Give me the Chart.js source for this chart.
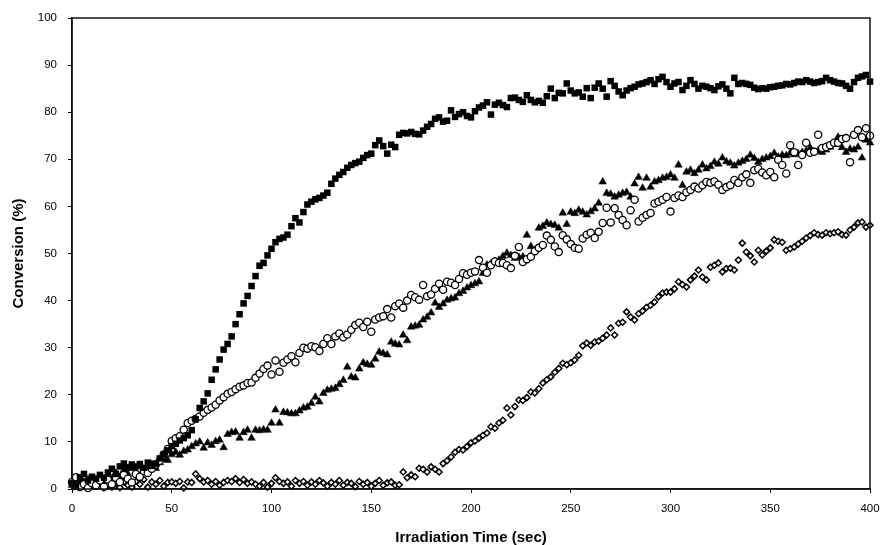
<!DOCTYPE html>
<html>
<head>
<meta charset="utf-8">
<script src="https://cdn.jsdelivr.net/npm/chart.js@4/dist/chart.umd.min.js"></script>
<style>
  html, body { margin: 0; padding: 0; background: #fff; }
  #wrap { width: 883px; height: 545px; }
</style>
</head>
<body>
<div id="wrap"><canvas id="c" width="883" height="545"></canvas></div>
<script>
// ---- data ----
const times = [0,2,4,6,8,10,12,14,16,18,20,22,24,26,28,30,32,34,36,38,40,42,44,46,48,50,52,54,56,58,60,62,64,66,68,70,72,74,76,78,80,82,84,86,88,90,92,94,96,98,100,102,104,106,108,110,112,114,116,118,120,122,124,126,128,130,132,134,136,138,140,142,144,146,148,150,152,154,156,158,160,162,164,166,168,170,172,174,176,178,180,182,184,186,188,190,192,194,196,198,200,202,204,206,208,210,212,214,216,218,220,222,224,226,228,230,232,234,236,238,240,242,244,246,248,250,252,254,256,258,260,262,264,266,268,270,272,274,276,278,280,282,284,286,288,290,292,294,296,298,300,302,304,306,308,310,312,314,316,318,320,322,324,326,328,330,332,334,336,338,340,342,344,346,348,350,352,354,356,358,360,362,364,366,368,370,372,374,376,378,380,382,384,386,388,390,392,394,396,398,400];

const filledSquares = [1.2,0.5,2.5,3.2,1.8,2.6,2.2,3.0,2.4,3.5,4.3,3.2,4.8,5.4,4.6,5.2,4.8,5.3,4.5,5.6,4.9,5.4,6.5,7.4,8.2,9.1,9.6,10.3,10.8,11.4,12.5,14.8,17.2,18.6,20.3,23.2,25.4,27.5,29.6,30.8,32.4,35.0,37.1,39.4,41.0,43.1,45.2,47.4,48.0,49.6,51.0,52.4,53.1,53.4,54.0,55.8,57.5,56.6,58.8,60.4,61.0,61.5,61.8,62.3,62.9,64.8,65.9,66.7,67.3,68.2,68.8,69.2,69.5,70.3,70.9,71.2,73.0,74.0,72.8,71.2,73.1,72.6,75.2,75.6,75.5,75.8,75.4,75.3,76.1,76.9,77.5,78.6,78.9,78.0,78.2,80.4,79.0,79.6,80.0,79.2,78.9,80.2,81.0,81.4,82.1,79.5,81.6,82.0,81.5,81.1,83.0,83.1,82.6,82.2,83.6,82.6,82.1,82.4,82.0,83.4,85.0,83.0,84.1,84.0,86.1,84.6,84.0,84.2,83.3,85.1,83.0,85.2,86.1,85.0,83.3,86.6,85.6,84.4,83.6,84.6,85.1,85.4,85.9,86.1,86.4,86.8,86.0,87.0,87.5,86.4,85.4,86.1,86.4,84.7,85.6,86.8,86.0,85.0,85.6,85.4,85.1,84.7,85.5,85.9,85.0,84.0,87.3,86.0,86.2,86.0,85.8,85.2,84.9,85.1,85.0,85.3,85.4,85.6,85.7,86.0,85.9,86.2,86.5,86.4,86.8,86.5,86.2,86.4,86.6,87.3,86.8,86.5,86.2,86.1,85.6,85.0,86.4,87.3,87.6,87.9,86.5];

const openCircles = [1.5,2.5,0.4,1.0,0.2,1.2,0.8,1.8,0.5,2.0,1.0,2.4,1.5,3.0,2.2,1.4,3.2,2.6,3.8,3.4,4.3,5.2,6.0,7.3,8.5,10.2,10.8,11.2,12.6,14.0,14.5,14.9,15.4,16.2,16.8,17.3,17.9,18.8,19.5,20.2,20.6,21.2,21.7,22.0,22.5,22.6,23.6,24.5,25.5,26.2,24.3,27.3,24.9,26.8,27.5,28.2,26.9,28.9,30.0,29.8,30.3,30.1,29.3,30.8,32.0,30.8,32.4,33.0,32.2,32.8,33.8,34.8,35.3,34.4,35.5,33.4,36.0,36.4,36.7,38.2,36.4,38.8,39.4,38.5,40.0,41.2,40.7,40.2,43.3,40.9,41.3,42.5,43.6,42.3,44.0,43.8,43.3,44.6,45.8,45.5,45.9,46.2,48.6,47.0,45.9,47.5,48.3,48.0,48.0,47.5,46.9,49.5,51.4,48.2,48.8,49.3,50.5,51.2,51.8,53.8,52.9,51.5,50.3,53.9,53.0,52.0,51.2,51.0,53.2,54.0,54.4,53.3,54.6,56.5,59.7,56.6,59.6,58.2,57.1,56.0,59.2,61.4,56.8,57.6,58.2,58.6,60.6,61.0,61.4,62.0,58.9,61.8,62.3,62.0,63.0,63.5,64.2,63.8,64.5,65.2,65.0,65.3,64.6,63.5,64.1,64.5,65.6,65.0,66.2,66.8,65.0,67.7,68.0,67.2,66.6,67.3,66.2,69.9,68.8,67.0,73.0,71.5,68.8,70.9,73.5,71.4,71.6,75.2,72.4,72.6,73.0,73.5,73.5,74.3,74.5,69.4,75.2,76.2,74.7,76.6,75.0];

const filledTriangles = [0.8,0.3,1.5,0.6,2.0,1.0,1.8,2.6,1.4,2.8,2.2,3.4,2.5,4.0,3.2,4.4,3.6,4.8,3.9,4.6,5.2,4.4,5.6,6.4,6.1,7.3,7.8,7.2,8.0,8.3,9.0,9.6,10.0,8.7,9.8,9.3,10.1,10.4,8.8,11.6,12.0,12.1,10.8,12.0,12.5,10.8,12.5,12.4,12.6,12.5,14.0,16.8,14.0,16.3,16.2,16.0,16.0,16.6,17.2,17.4,18.2,19.5,18.5,20.3,21.0,21.2,21.4,22.2,23.1,25.9,23.8,23.6,25.5,26.8,26.5,26.3,27.6,29.1,28.8,28.5,31.2,30.8,30.6,32.7,31.5,34.4,34.6,34.8,35.9,36.5,37.4,39.5,38.6,39.3,40.1,40.4,40.6,41.5,42.0,42.7,43.2,43.6,44.0,45.8,47.6,47.8,48.3,48.6,49.4,50.1,49.6,49.0,49.2,49.3,53.9,51.5,50.7,55.4,55.8,56.5,56.2,56.0,55.4,58.6,56.2,58.8,58.5,59.2,58.8,58.2,58.9,59.5,60.7,65.2,62.8,62.6,62.0,62.4,62.8,63.0,62.0,64.8,66.2,63.9,66.0,64.1,65.2,65.5,66.0,66.2,66.7,66.0,68.8,64.5,67.3,67.7,67.0,67.7,68.8,68.0,68.5,69.4,69.0,70.3,69.5,69.2,68.6,69.2,69.6,70.0,70.9,70.2,69.4,70.0,70.3,70.6,71.3,70.5,70.9,70.8,71.3,71.0,71.2,71.5,71.8,72.4,71.6,71.8,71.5,72.0,72.6,73.2,74.7,72.5,71.5,72.2,72.0,72.6,70.3,74.1,73.5];

const openDiamonds = [1.0,2.0,0.5,1.5,0.3,1.2,0.6,1.4,0.2,1.0,0.4,1.2,0.3,1.5,0.8,0.4,1.6,1.0,2.0,0.4,1.5,1.0,1.8,0.6,1.4,1.5,1.2,1.6,0.2,1.5,1.4,3.2,2.2,1.5,1.8,1.0,1.6,0.8,1.4,1.8,1.6,2.2,1.4,2.0,1.2,1.5,1.0,0.6,1.4,0.4,1.2,2.4,1.6,1.2,1.5,0.6,1.8,1.2,1.6,0.8,1.5,1.0,1.8,1.3,0.6,1.4,1.0,1.8,0.8,1.4,1.2,0.5,1.6,1.0,1.4,0.6,1.2,1.8,0.8,1.3,1.5,0.8,0.9,3.6,2.4,3.0,2.6,4.4,4.2,3.6,4.7,4.2,3.6,5.4,6.0,6.8,7.8,8.4,8.3,9.0,9.8,10.2,10.8,11.4,11.9,13.2,12.9,14.0,14.6,17.2,15.7,17.5,18.9,18.8,19.4,20.6,20.4,21.3,22.5,23.2,23.8,24.8,25.6,26.7,26.4,26.8,27.4,28.4,30.4,31.0,30.5,31.2,31.4,32.0,32.7,34.2,32.7,35.2,35.4,37.6,36.5,35.9,37.2,37.8,38.6,39.0,39.7,40.8,41.6,41.8,41.8,42.5,44.0,43.4,42.9,44.4,45.2,46.5,45.0,44.4,47.1,47.5,48.0,46.1,46.8,46.9,46.5,48.6,52.2,50.3,49.5,48.2,50.7,49.7,50.5,51.2,52.9,52.6,52.4,50.7,51.0,51.4,52.0,52.6,53.3,53.8,54.4,54.0,53.9,54.4,54.2,54.4,54.6,54.0,53.9,55.0,55.6,56.5,56.7,55.6,56.0];

const xTickValues = [0,50,100,150,200,250,300,350,400];
const yTickValues = [0,10,20,30,40,50,60,70,80,90,100];
const xTitle = 'Irradiation Time (sec)';
const yTitle = 'Conversion (%)';

// ---- build ----
function pts(ys) { return ys.map((v, i) => ({ x: times[i], y: v })); }

const frame = {
  id: 'frame',
  afterDatasetsDraw(chart) {
    const a = chart.chartArea, ctx = chart.ctx;
    ctx.save();
    ctx.strokeStyle = '#111';
    ctx.lineWidth = 1.5;
    ctx.strokeRect(a.left, a.top, a.right - a.left, a.bottom - a.top);
    ctx.restore();
  }
};

const tickFont = { family: 'Arial, "Liberation Sans", sans-serif', size: 11.5 };
const titleFont = { family: 'Arial, "Liberation Sans", sans-serif', size: 15, weight: 'bold' };

new Chart(document.getElementById('c'), {
  type: 'scatter',
  data: {
    datasets: [
      { label: 'squares', data: pts(filledSquares), pointStyle: 'rect', pointRadius: 4.6,
        backgroundColor: '#000', borderColor: '#000', borderWidth: 0 },
      { label: 'circles', data: pts(openCircles), pointStyle: 'circle', pointRadius: 3.6,
        backgroundColor: '#fff', borderColor: '#000', borderWidth: 1.3 },
      { label: 'triangles', data: pts(filledTriangles), pointStyle: 'triangle', pointRadius: 4.4,
        backgroundColor: '#000', borderColor: '#000', borderWidth: 0.5 },
      { label: 'diamonds', data: pts(openDiamonds), pointStyle: 'rectRot', pointRadius: 3.0,
        backgroundColor: '#fff', borderColor: '#000', borderWidth: 1.5 }
    ]
  },
  options: {
    responsive: false,
    animation: false,
    layout: { padding: { top: 18, right: 13, left: 0, bottom: 0 } },
    plugins: { legend: { display: false }, tooltip: { enabled: false } },
    elements: { point: { hoverRadius: 4 } },
    clip: false,
    scales: {
      x: {
        type: 'linear', min: 0, max: 400,
        afterBuildTicks: (s) => { s.ticks = xTickValues.map(v => ({ value: v })); },
        afterFit: (s) => { s.height = 56; s.paddingRight = 0; s.paddingLeft = 0; },
        ticks: { color: '#000', font: tickFont, padding: 9, maxRotation: 0 },
        grid: { display: true, drawOnChartArea: false, drawTicks: true, tickLength: 4, color: '#000' },
        border: { display: true, color: '#111', width: 1.5 },
        title: { display: true, text: xTitle, color: '#000', font: titleFont, padding: { top: 2, bottom: -2 } }
      },
      y: {
        type: 'linear', min: 0, max: 100,
        afterBuildTicks: (s) => { s.ticks = yTickValues.map(v => ({ value: v })); },
        afterFit: (s) => { s.width = 72; s.paddingTop = 0; s.paddingBottom = 0; },
        ticks: { color: '#000', font: tickFont, padding: 11 },
        grid: { display: true, drawOnChartArea: false, drawTicks: true, tickLength: 4, color: '#000' },
        border: { display: true, color: '#111', width: 1.5 },
        title: { display: true, text: yTitle, color: '#000', font: titleFont, padding: { top: 10, bottom: 0 } }
      }
    }
  },
  plugins: [frame]
});
</script>
</body>
</html>
